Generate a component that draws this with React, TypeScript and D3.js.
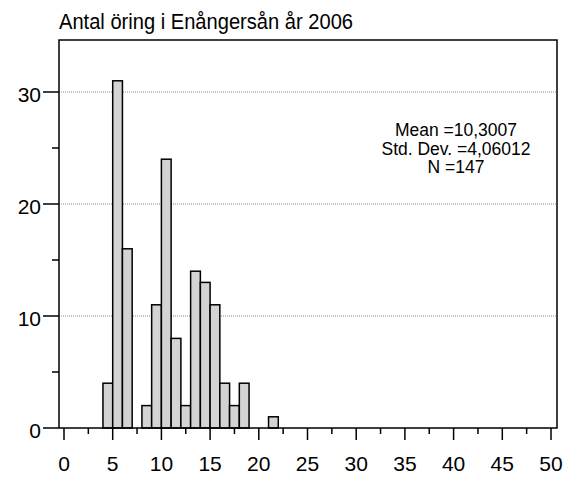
import React, { useEffect, useRef } from 'react'
import * as d3 from 'd3'

// histogram bins (width 1), start value of each bin
const binStarts = [4, 5, 6, 7, 8, 9, 10, 11, 12, 13, 14, 15, 16, 17, 18, 19, 20, 21]
const counts = [4, 31, 16, 0, 2, 11, 24, 8, 2, 14, 13, 11, 4, 2, 4, 0, 0, 1]
const xTicks = [0, 5, 10, 15, 20, 25, 30, 35, 40, 45, 50]
const yTicks = [0, 10, 20, 30]
const statLines = ['Mean =10,3007', 'Std. Dev. =4,06012', 'N =147']
const title = 'Antal öring i Enångersån år 2006'

export default function App() {
  const ref = useRef<SVGSVGElement | null>(null)

  useEffect(() => {
    const svg = d3.select(ref.current)
    svg.selectAll('*').remove()

    const W = 573
    const H = 477
    const frame = { left: 59, right: 557, top: 40, bottom: 428 }

    const x = d3.scaleLinear().domain([0, 50]).range([64, 551])
    const y = d3.scaleLinear().domain([0, 30]).range([428, 92])
    const font = 'Arial, "Liberation Sans", sans-serif'

    svg.attr('width', W).attr('height', H)
    svg.append('rect').attr('width', W).attr('height', H).attr('fill', '#fff')

    // title
    svg.append('text')
      .attr('x', frame.left)
      .attr('y', 29)
      .attr('font-family', font)
      .attr('font-size', 22.5)
      .attr('textLength', 294)
      .attr('lengthAdjust', 'spacingAndGlyphs')
      .text(title)

    // grid lines
    svg.selectAll('line.grid')
      .data(yTicks.filter(d => d > 0))
      .enter()
      .append('line')
      .attr('class', 'grid')
      .attr('x1', frame.left)
      .attr('x2', frame.right)
      .attr('y1', d => y(d))
      .attr('y2', d => y(d))
      .attr('stroke', '#888')
      .attr('stroke-width', 1)
      .attr('stroke-dasharray', '1,1')

    // bars
    const bars = binStarts.map((b, i) => ({ b, c: counts[i] })).filter(d => d.c > 0)
    svg.selectAll('rect.bar')
      .data(bars)
      .enter()
      .append('rect')
      .attr('class', 'bar')
      .attr('x', d => x(d.b))
      .attr('width', d => x(d.b + 1) - x(d.b))
      .attr('y', d => y(d.c))
      .attr('height', d => y(0) - y(d.c))
      .attr('fill', '#d3d3d3')
      .attr('stroke', '#000')
      .attr('stroke-width', 1.5)

    // frame
    svg.append('path')
      .attr('d', `M${frame.left},${frame.bottom}V${frame.top}H${frame.right}V${frame.bottom}H${frame.left}`)
      .attr('fill', 'none')
      .attr('stroke', '#000')
      .attr('stroke-width', 1.5)

    // y ticks
    const yMinor = [5, 15, 25]
    svg.selectAll('line.ytick')
      .data(yTicks)
      .enter()
      .append('line')
      .attr('x1', frame.left - 16)
      .attr('x2', frame.left)
      .attr('y1', d => y(d))
      .attr('y2', d => y(d))
      .attr('stroke', '#000')
      .attr('stroke-width', 1.5)
    svg.selectAll('line.yminor')
      .data(yMinor)
      .enter()
      .append('line')
      .attr('x1', frame.left - 7)
      .attr('x2', frame.left)
      .attr('y1', d => y(d))
      .attr('y2', d => y(d))
      .attr('stroke', '#000')
      .attr('stroke-width', 1.5)
    svg.selectAll('text.ylab')
      .data(yTicks)
      .enter()
      .append('text')
      .attr('x', 41)
      .attr('y', d => y(d) + 10)
      .attr('text-anchor', 'end')
      .attr('font-family', font)
      .attr('font-size', 21)
      .text(d => d)

    // x ticks
    const xMinor = d3.range(2.5, 50, 5)
    svg.selectAll('line.xtick')
      .data(xTicks)
      .enter()
      .append('line')
      .attr('x1', d => x(d))
      .attr('x2', d => x(d))
      .attr('y1', frame.bottom)
      .attr('y2', frame.bottom + 12)
      .attr('stroke', '#000')
      .attr('stroke-width', 1.5)
    svg.selectAll('line.xminor')
      .data(xMinor)
      .enter()
      .append('line')
      .attr('x1', d => x(d))
      .attr('x2', d => x(d))
      .attr('y1', frame.bottom)
      .attr('y2', frame.bottom + 6)
      .attr('stroke', '#000')
      .attr('stroke-width', 1.5)
    svg.selectAll('text.xlab')
      .data(xTicks)
      .enter()
      .append('text')
      .attr('x', d => x(d))
      .attr('y', 471)
      .attr('text-anchor', 'middle')
      .attr('font-family', font)
      .attr('font-size', 21)
      .text(d => d)

    // stats box text
    svg.selectAll('text.stat')
      .data(statLines)
      .enter()
      .append('text')
      .attr('x', 456)
      .attr('y', (d, i) => 136 + i * 18.5)
      .attr('text-anchor', 'middle')
      .attr('font-family', font)
      .attr('font-size', 17.5)
      .text(d => d)
  }, [])

  return (
    <div style={{ position: 'absolute', left: 0, top: 0 }}>
      <svg ref={ref} style={{ display: 'block' }} />
    </div>
  )
}
